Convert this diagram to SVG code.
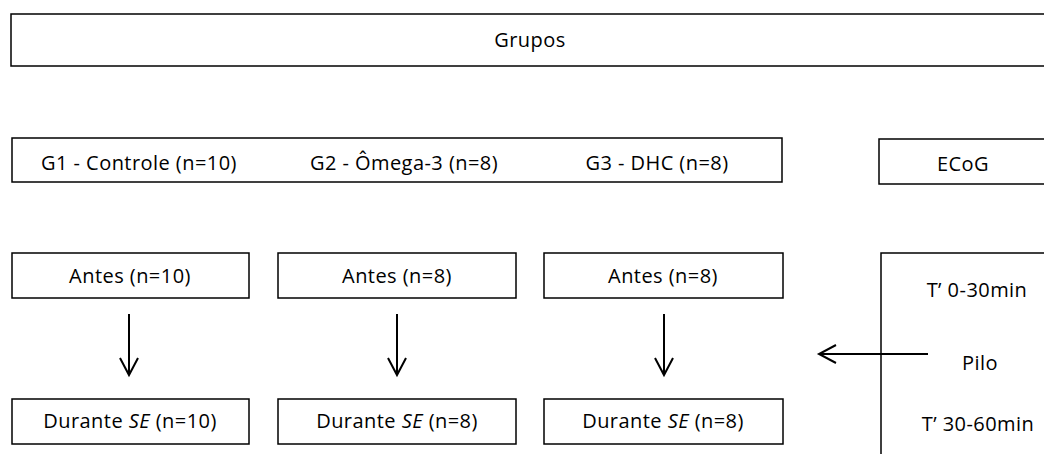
<svg xmlns="http://www.w3.org/2000/svg" width="1044" height="454" viewBox="0 0 1044 454">
<defs>
<style>
.box{fill:#fff;stroke:#000;stroke-width:1.5}
.t{font-family:"Open Sans","Liberation Sans",sans-serif;font-size:20px;letter-spacing:0.45px;fill:#000;text-anchor:middle}
.c{fill:none;stroke:#000;stroke-width:2}
</style>
<marker id="ah" viewBox="-2 -2 24 24" refX="18" refY="10" markerWidth="24" markerHeight="24" markerUnits="userSpaceOnUse" orient="auto">
<path d="M1,1 L18,10 L1,19" fill="none" stroke="#000" stroke-width="2"/>
</marker>
</defs>
<rect width="1044" height="454" fill="#fff"/>
<g id="grupos"><rect class="box" x="11" y="14" width="1040" height="52"/><text class="t" x="530" y="47">Grupos</text></g>
<g id="grupos-row"><rect class="box" x="12" y="138" width="770" height="44"/>
<text class="t" x="139" y="170">G1 - Controle (n=10)</text>
<text class="t" x="404" y="170">G2 - Ômega-3 (n=8)</text>
<text class="t" x="657" y="170">G3 - DHC (n=8)</text></g>
<g id="ecog"><rect class="box" x="879" y="139" width="170" height="45"/><text class="t" x="963" y="171">ECoG</text></g>
<g id="antes1"><rect class="box" x="12" y="253" width="237" height="45"/><text class="t" x="130" y="283">Antes (n=10)</text></g>
<g id="antes2"><rect class="box" x="278" y="253" width="238" height="45"/><text class="t" x="397" y="283">Antes (n=8)</text></g>
<g id="antes3"><rect class="box" x="544" y="253" width="239" height="45"/><text class="t" x="663" y="283">Antes (n=8)</text></g>
<g id="durante1"><rect class="box" x="12" y="399" width="237" height="45"/><text class="t" x="130" y="428">Durante <tspan font-style="italic">SE</tspan> (n=10)</text></g>
<g id="durante2"><rect class="box" x="278" y="399" width="238" height="45"/><text class="t" x="397" y="428">Durante <tspan font-style="italic">SE</tspan> (n=8)</text></g>
<g id="durante3"><rect class="box" x="544" y="399" width="239" height="45"/><text class="t" x="663" y="428">Durante <tspan font-style="italic">SE</tspan> (n=8)</text></g>
<g id="timeline"><path class="box" fill="none" d="M881,460 V253 H1050"/>
<text class="t" x="977" y="297">T’ 0-30min</text>
<text class="t" x="980" y="370">Pilo</text>
<text class="t" x="978" y="431">T’ 30-60min</text></g>
<g id="connectors">
<line class="c" x1="129" y1="314" x2="129" y2="375" marker-end="url(#ah)"/>
<line class="c" x1="397" y1="314" x2="397" y2="375" marker-end="url(#ah)"/>
<line class="c" x1="664" y1="314" x2="664" y2="375" marker-end="url(#ah)"/>
<line class="c" x1="928" y1="354" x2="819" y2="354" marker-end="url(#ah)"/>
</g>
</svg>
